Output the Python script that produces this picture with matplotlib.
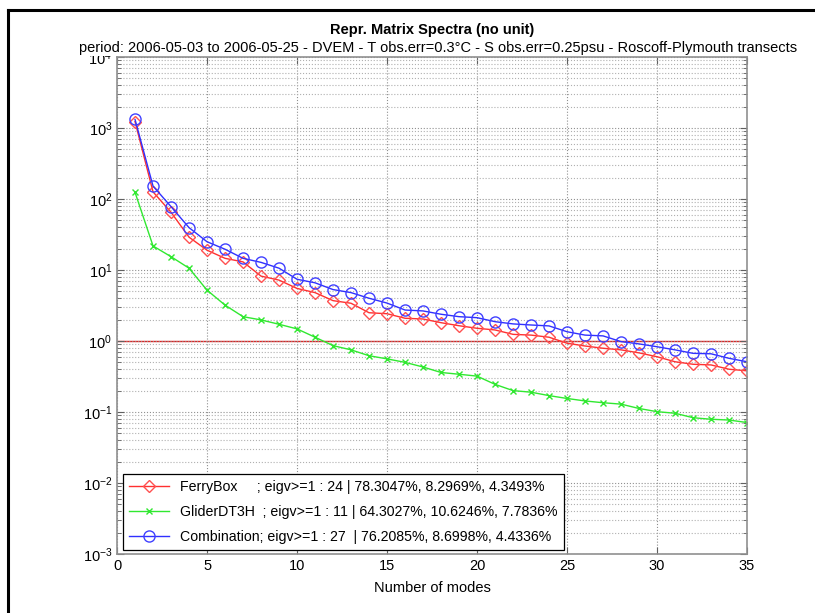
import numpy as np
import matplotlib
matplotlib.use('Agg')
import matplotlib.pyplot as plt
from matplotlib.lines import Line2D
from matplotlib.ticker import LogLocator, MultipleLocator

plt.rcParams['font.family'] = ['Liberation Sans', 'DejaVu Sans']

modes = list(range(1, 36))

ferrybox = [1230, 126, 65, 29, 19, 14.6, 13.0, 8.2, 7.2, 5.5,
            4.8, 3.7, 3.4, 2.5, 2.42, 2.09, 2.04, 1.81, 1.64, 1.51,
            1.43, 1.24, 1.21, 1.13, 0.93, 0.85, 0.79, 0.75, 0.68, 0.60,
            0.51, 0.47, 0.46, 0.40, 0.38]
glider = [124, 21.8, 15.4, 10.6, 5.2, 3.2, 2.2, 1.98, 1.72, 1.48,
          1.13, 0.86, 0.75, 0.62, 0.56, 0.50, 0.43, 0.36, 0.34, 0.32,
          0.245, 0.20, 0.19, 0.17, 0.155, 0.143, 0.135, 0.129, 0.112, 0.101,
          0.096, 0.083, 0.079, 0.077, 0.071]
combination = [1320, 152, 78, 39.5, 25, 19.6, 14.6, 12.8, 10.6, 7.4,
               6.6, 5.3, 4.8, 4.0, 3.42, 2.73, 2.65, 2.38, 2.2, 2.13,
               1.87, 1.74, 1.68, 1.63, 1.35, 1.21, 1.18, 0.98, 0.91, 0.83,
               0.75, 0.67, 0.66, 0.57, 0.51]

labels = ['FerryBox     ; eigv>=1 : 24 | 78.3047%, 8.2969%, 4.3493%',
          'GliderDT3H  ; eigv>=1 : 11 | 64.3027%, 10.6246%, 7.7836%',
          'Combination; eigv>=1 : 27  | 76.2085%, 8.6998%, 4.4336%']

title = 'Repr. Matrix Spectra (no unit)'
subtitle = ('period: 2006-05-03 to 2006-05-25 - DVEM - T obs.err=0.3\u00b0C - '
            'S obs.err=0.25psu - Roscoff-Plymouth transects')

fig = plt.figure(figsize=(8.15, 6.13), dpi=100)
ax = fig.add_axes([0.1436, 0.0963, 0.773, 0.8107])

ax.plot(modes, ferrybox, color='#ff3030', lw=1, marker='D', ms=6,
        mfc='none', mec='#ff5050', label=labels[0])
ax.plot(modes, glider, color='#30e830', lw=1, marker='x', ms=5,
        mec='#30e830', label=labels[1])
ax.plot(modes, combination, color='#3030ff', lw=1, marker='o', ms=8,
        mfc='none', mec='#4040ff', label=labels[2])
ax.axhline(1, color='#e02020', lw=1, zorder=1)

ax.set_yscale('log')
ax.set_xlim(0, 35)
ax.set_ylim(1e-3, 1e4)
ax.xaxis.set_major_locator(MultipleLocator(5))
ax.yaxis.set_major_locator(LogLocator(base=10, numticks=10))
ax.yaxis.set_minor_locator(LogLocator(base=10, subs=np.arange(2, 10), numticks=20))

ax.grid(True, which='major', axis='both', ls=':', color='#909090', lw=0.8)
ax.grid(True, which='minor', axis='y', ls=':', color='#b0b0b0', lw=0.8)
ax.tick_params(which='both', direction='in', top=True, right=True,
               color='#606060', labelsize=10.5)
ax.tick_params(which='major', length=5)
ax.tick_params(which='minor', length=3)
for s in ax.spines.values():
    s.set_color('#909090')
    s.set_linewidth(1.2)

ax.set_xlabel('Number of modes', fontsize=10.5, labelpad=6)

fig.text(0.53, 0.951, title, ha='center', va='center', fontsize=10.5, fontweight='bold')
fig.text(0.537, 0.921, subtitle, ha='center', va='center', fontsize=10.5,
         bbox=dict(facecolor='white', edgecolor='none', pad=0.5))

leg = ax.legend(loc='lower left', bbox_to_anchor=(0.0095, 0.008), borderaxespad=0,
                fancybox=False, edgecolor='black', fontsize=10.2, handlelength=2.8,
                framealpha=1, labelspacing=0.75, borderpad=0.45)
leg.get_frame().set_linewidth(0.9)

# page frame
fig.add_artist(Line2D([8 / 815, 8 / 815], [0, 1 - 10 / 613], color='black', lw=2.2))
fig.add_artist(Line2D([8 / 815, 1], [1 - 10 / 613, 1 - 10 / 613], color='black', lw=2.2))

plt.savefig('out.png', dpi=100)
